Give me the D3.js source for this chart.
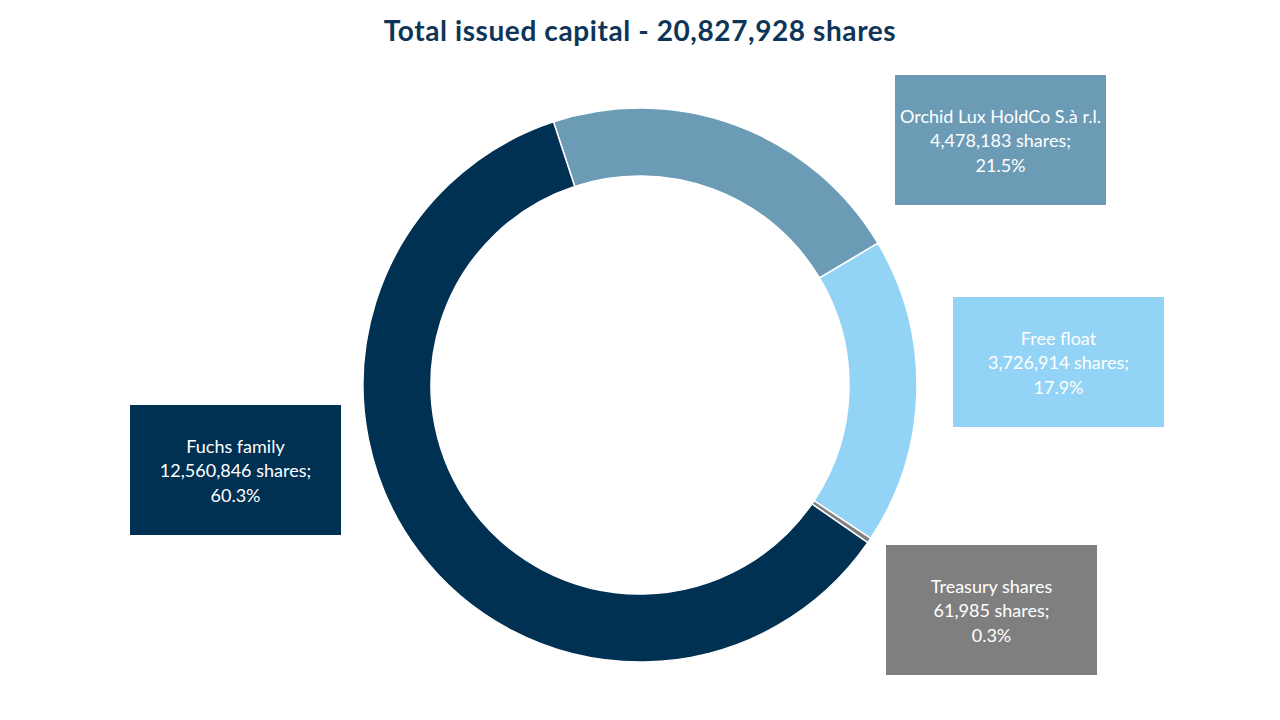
<!DOCTYPE html>
<html>
<head>
<meta charset="utf-8">
<script src="https://cdn.jsdelivr.net/npm/d3@7"></script>
<style>
  body { margin: 0; background: #fff; }
  svg { display: block; font-family: Lato, "Open Sans", sans-serif; }
</style>
</head>
<body>
<svg id="chart" width="1280" height="720"></svg>
<script>
// shareholder data (clockwise from the top)
const holders = ["Orchid Lux HoldCo S.à r.l.", "Free float", "Treasury shares", "Fuchs family"];
const shares = [4478183, 3726914, 61985, 12560846];
const shareLabels = ["4,478,183 shares;", "3,726,914 shares;", "61,985 shares;", "12,560,846 shares;"];
const pctLabels = ["21.5%", "17.9%", "0.3%", "60.3%"];
const colors = ["#6B9BB5", "#93D4F6", "#7F7F7F", "#003153"];
// label box corners (left, top)
const boxX = [895, 953, 886, 130];
const boxY = [75, 297, 545, 405];

var svg = d3.select("#chart");

// title
svg.append("text")
  .attr("x", 640).attr("y", 41)
  .attr("text-anchor", "middle")
  .attr("font-size", 28).attr("font-weight", "bold")
  .attr("letter-spacing", 0.6)
  .attr("fill", "#0E3557")
  .text("Total issued capital - 20,827,928 shares");

var cx = 640, cy = 385;
var rad = Math.PI / 180;

var pie = d3.pie().sort(null)
  .startAngle(-18.2 * rad)
  .endAngle(341.8 * rad);

var arc = d3.arc().innerRadius(209).outerRadius(277);

var g = svg.append("g").attr("transform", "translate(" + cx + "," + cy + ")");

g.selectAll("path")
  .data(pie(shares))
  .enter().append("path")
  .attr("d", arc)
  .attr("fill", (d, i) => colors[i])
  .attr("stroke", "#fff")
  .attr("stroke-width", 1.5);

// label boxes
var boxes = svg.selectAll("g.lbl")
  .data(holders)
  .enter().append("g")
  .attr("class", "lbl")
  .attr("transform", (d, i) => "translate(" + boxX[i] + "," + boxY[i] + ")");

boxes.append("rect")
  .attr("width", 211).attr("height", 130)
  .attr("fill", (d, i) => colors[i]);

boxes.each(function(d, i) {
  let lines = [holders[i], shareLabels[i], pctLabels[i]];
  let t = d3.select(this).append("text")
    .attr("text-anchor", "middle")
    .attr("font-size", 18)
    .attr("fill", "#fff");
  lines.forEach((ln, k) => {
    t.append("tspan")
      .attr("x", 105.5)
      .attr("y", 47.5 + k * 24.5)
      .text(ln);
  });
});
</script>
</body>
</html>
